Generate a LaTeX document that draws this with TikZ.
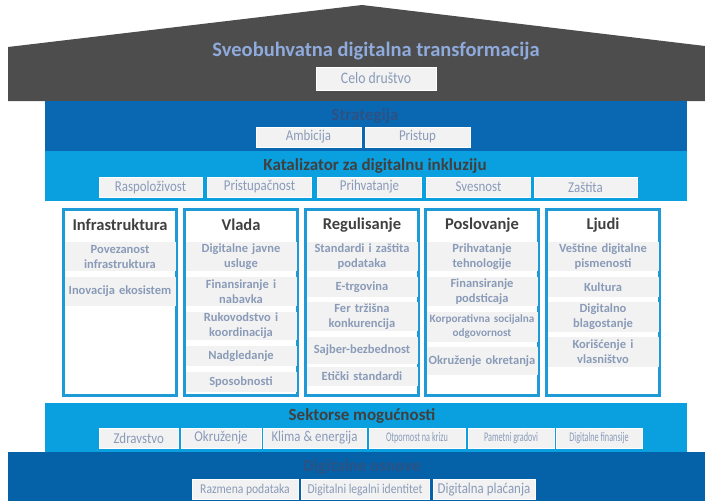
\documentclass[tikz,border=0pt]{standalone}
\usepackage{fontspec}
\setmainfont{Carlito}
\newfontfamily\narrowfont[FakeStretch=0.86]{Carlito}
\newfontfamily\condfont[FakeStretch=0.62]{Carlito}
\usetikzlibrary{positioning}

\definecolor{roofgray}{HTML}{4D4D4D}
\definecolor{stratblue}{HTML}{0A67B2}
\definecolor{catblue}{HTML}{0AA0DF}
\definecolor{baseblue}{HTML}{0562A8}
\definecolor{pillarline}{HTML}{1E9BD7}
\definecolor{boxfill}{HTML}{F2F2F2}
\definecolor{boxtext}{HTML}{8A9BB8}
\definecolor{titleblue}{HTML}{8FAADC}
\definecolor{darktext}{HTML}{404040}
\definecolor{dimtext}{HTML}{2C5284}

\tikzset{
  bandbox/.style={fill=boxfill, draw=white, line width=0.6pt, text=boxtext,
    font=\narrowfont\fontsize{15}{16}\selectfont, minimum height=20pt, inner sep=0pt},
  smallbox/.style={bandbox, font=\condfont\fontsize{13.2}{14}\selectfont},
  bandtitle/.style={font=\bfseries\fontsize{17}{19}\selectfont},
  pillar/.style={draw=pillarline, line width=2.6pt, fill=white,
    minimum width=113.4pt, minimum height=186.4pt},
  pillartitle/.style={font=\bfseries\fontsize{16.5}{18}\selectfont, text=darktext},
  item/.style={fill=boxfill, text=boxtext, font=\bfseries\fontsize{12.5}{15}\selectfont,
    align=center, text width=110pt, minimum width=111pt, inner xsep=0.5pt, inner ysep=0pt}
}

\begin{document}
\begin{tikzpicture}[x=1pt, y=-1pt]
    \useasboundingbox (0,0) rectangle (705,501);

    % Roof
    \fill[roofgray] (8,47) -- (362,5) -- (705,46) -- (705,101) -- (8,101) -- cycle;
    \node[font=\bfseries\fontsize{20.5}{22}\selectfont, text=titleblue] (roof) at (376,51) {Sveobuhvatna digitalna transformacija};
    \node[bandbox, minimum width=120pt, minimum height=23pt, font=\narrowfont\fontsize{16}{17}\selectfont] (society) at (376,78.5) {Celo društvo};

    % Strategy band
    \fill[stratblue] (45,101) rectangle (687,151);
    \node[bandtitle, text=dimtext] (strategy) at (365,116) {Strategija};
    \node[bandbox, minimum width=105pt] (ambition) at (308.5,137) {Ambicija};
    \node[bandbox, minimum width=105pt] (approach) at (417.5,137) {Pristup};

    % Catalyst band
    \fill[catblue] (45,151) rectangle (687,201);
    \node[bandtitle, text=darktext] (catalyst) at (375,166) {Katalizator za digitalnu inkluziju};
    \node[bandbox, minimum width=103pt] (availability) at (150.5,187) {Raspoloživost};
    \node[bandbox, minimum width=104pt] (access) at (259.5,187) {Pristupačnost};
    \node[bandbox, minimum width=104pt] (adoption) at (369.5,187) {Prihvatanje};
    \node[bandbox, minimum width=104pt] (awareness) at (478.5,187) {Svesnost};
    \node[bandbox, minimum width=103pt] (protection) at (585.5,187) {Zaštita};

    % Pillars
    \node[pillar] (infra) at (120,302.5) {};
    \node[pillartitle] (infratitle) at (120,225) {Infrastruktura};
    \node[item, minimum height=29pt] (connect) at (120,256.5) {Povezanost\\infrastruktura};
    \node[item, minimum height=29pt] (innov) at (120,291.5) {Inovacija ekosistem};

    \node[pillar] (gov) at (241,302.5) {};
    \node[pillartitle] (govtitle) at (241,225) {Vlada};
    \node[item, minimum height=29pt] (eserv) at (241,256.5) {Digitalne javne\\usluge};
    \node[item, minimum height=29pt] (funding) at (241,291.5) {Finansiranje i\\nabavka};
    \node[item, minimum height=28pt] (lead) at (241,326) {Rukovodstvo i\\koordinacija};
    \node[item, minimum height=20pt] (oversight) at (241,356) {Nadgledanje};
    \node[item, minimum height=20pt] (capacity) at (241,382) {Sposobnosti};

    \node[pillar] (reg) at (362,302.5) {};
    \node[pillartitle] (regtitle) at (362,225) {Regulisanje};
    \node[item, minimum height=29pt] (dataprot) at (362,256.5) {Standardi i zaštita\\podataka};
    \node[item, minimum height=20pt] (ecom) at (362,287) {E-trgovina};
    \node[item, minimum height=29pt] (compet) at (362,316.5) {Fer tržišna\\konkurencija};
    \node[item, minimum height=27pt] (cyber) at (362,350.5) {Sajber-bezbednost};
    \node[item, minimum height=19pt] (ethics) at (362,376.5) {Etički standardi};

    \node[pillar] (biz) at (482,302.5) {};
    \node[pillartitle] (biztitle) at (482,225) {Poslovanje};
    \node[item, minimum height=29pt] (techadopt) at (482,256.5) {Prihvatanje\\tehnologije};
    \node[item, minimum height=29pt] (incent) at (482,291.5) {Finansiranje\\podsticaja};
    \node[item, minimum height=30pt, font=\bfseries\fontsize{11.2}{14}\selectfont] (csr) at (482,327) {Korporativna socijalna\\odgovornost};
    \node[item, minimum height=28pt] (agile) at (482,361) {Okruženje okretanja};

    \node[pillar] (people) at (603,302.5) {};
    \node[pillartitle] (peopletitle) at (603,225) {Ljudi};
    \node[item, minimum height=29pt] (literacy) at (603,256.5) {Veštine digitalne\\pismenosti};
    \node[item, minimum height=20pt] (culture) at (603,287) {Kultura};
    \node[item, minimum height=30pt] (wellbeing) at (603,317) {Digitalno\\blagostanje};
    \node[item, minimum height=30pt] (usage) at (603,352) {Korišćenje i\\vlasništvo};

    % Sector band
    \fill[catblue] (45,403) rectangle (687,452);
    \node[bandtitle, text=darktext] (sector) at (362,416) {Sektorse mogućnosti};
    \node[bandbox, minimum width=79.5pt] (health) at (138.75,438) {Zdravstvo};
    \node[bandbox, minimum width=80pt] (environ) at (221,438) {Okruženje};
    \node[bandbox, minimum width=103pt] (climate) at (314.5,438) {Klima \& energija};
    \node[smallbox, minimum width=96pt] (resil) at (417,438) {Otpornost na krizu};
    \node[smallbox, minimum width=86pt] (smart) at (511,438) {Pametni gradovi};
    \node[smallbox, minimum width=86pt] (finance) at (599,438) {Digitalne finansije};

    % Foundations band
    \fill[baseblue] (8,452) rectangle (705,501);
    \node[bandtitle, text=dimtext] (found) at (362,467) {Digitalne osnove};
    \node[bandbox, minimum width=106pt, font=\narrowfont\fontsize{13.5}{15}\selectfont] (dataex) at (245,489.5) {Razmena podataka};
    \node[bandbox, minimum width=128pt, font=\narrowfont\fontsize{13.5}{15}\selectfont] (ident) at (365,489.5) {Digitalni legalni identitet};
    \node[bandbox, minimum width=102pt] (pay) at (484,489.5) {Digitalna plaćanja};
\end{tikzpicture}
\end{document}
